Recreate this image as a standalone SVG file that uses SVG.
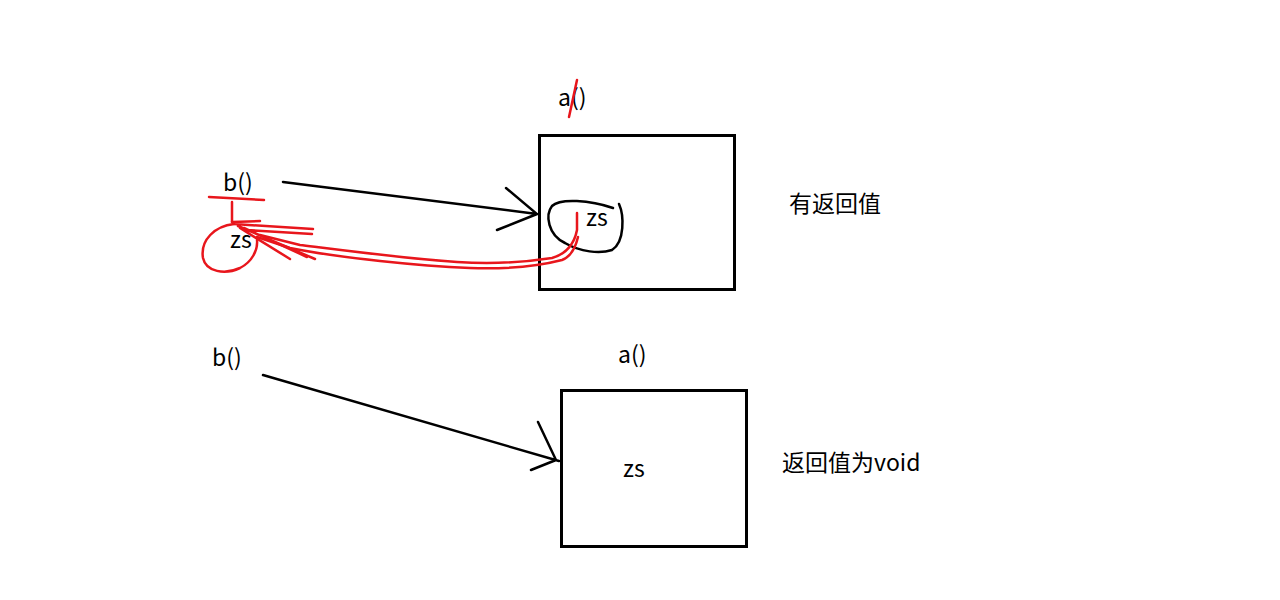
<svg xmlns="http://www.w3.org/2000/svg" width="1280" height="600" viewBox="0 0 1280 600">
<style>
.t{font-family:"Microsoft YaHei","Noto Sans CJK SC","Noto Sans",sans-serif;font-size:23px;fill:#000}
.box{fill:none;stroke:#000;stroke-width:3}
.bl{fill:none;stroke:#000;stroke-width:2.5;stroke-linecap:round}
.rd{fill:none;stroke:#e8161c;stroke-width:2.5;stroke-linecap:round;stroke-linejoin:round}
</style>
<rect width="1280" height="600" fill="#fff"/>
<g id="topA">
<rect class="box" x="539.5" y="135.5" width="195" height="154"/>
<text class="t" x="558" y="106">a()</text>
<path class="rd" d="M569 117 L577 80"/>
<path class="bl" d="M613 208 C590 200 560 198 552 206 C545 215 548 235 565 243 C580 252 600 254 612 250 C625 242 624 215 619 204"/>
<text class="t" x="586" y="226">zs</text>
<text class="t" x="789" y="212">有返回值</text>
</g>
<g id="topB">
<text class="t" x="223" y="191">b()</text>
<path class="rd" d="M209 197 L264 200"/>
<path class="rd" d="M232 202 L232 222"/>
<text class="t" x="230" y="248">zs</text>
<path class="rd" d="M234 224 C215 226 200 240 203 258 C206 272 225 275 240 268 C252 262 258 250 257 240"/>
</g>
<g id="bottomA">
<rect class="box" x="561.5" y="390.5" width="185" height="156"/>
<text class="t" x="618" y="363">a()</text>
<text class="t" x="623" y="477">zs</text>
<text class="t" x="782" y="471">返回值为void</text>
</g>
<g id="bottomB">
<text class="t" x="212" y="366">b()</text>
</g>
<g id="connectors">
<path class="bl" d="M283 182 L537 214 M506 188 L537 214 L497 230"/>
<path class="bl" d="M263 375 L559 461 M538 422 L556 460 L531 470"/>
<path class="rd" d="M577 213 L577 230 C574 245 566 254 552 258 C520 263 490 264 457 262 C400 258 340 250 300 245 L260 235"/>
<path class="rd" d="M578 237 C575 250 570 257 562 260 C535 267 500 269 470 268 C420 266 340 258 290 248 L257 237"/>
<path class="rd" d="M232 222 L260 221 M234 224 L313 229 M238 226 L315 259 M240 228 L290 259 M244 228 L307 257 M246 230 L312 234"/>
</g>
</svg>
